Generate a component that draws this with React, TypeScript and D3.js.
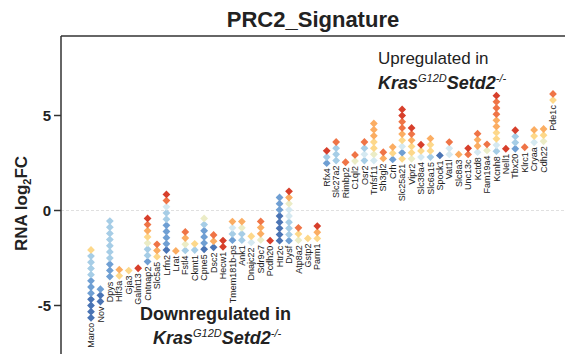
import React from "react";
import * as d3 from "d3";

const genes = [
  "Marco","Nov","Dpys","Hlf3a","Gja3","Galnt13","Cntnap2","Slc5a5","Lrfn2","Lrat",
  "Fstl4","Ckmt1","Cpne5","Dsc2","Hecw1","Tmem181b-ps","Ank1","Dnajc22","Sdr9c7","Pcdh20",
  "Htr2c","Dysf","Atp8a2","Gstp2","Parm1",
  "Rfx4","Slc27a2","Rimbp2","C1ql2","Osr2","Tnfsf11","Sh3gl2","Crh","Slc25a21","Vipr2",
  "Slc38a4","Slc6a15","Spock1","Vat1l","Slc8a3","Unc13c","Kctd8","Fam19a4","Kcnh8","Nell1",
  "Tbx20","Klrc1","Cryaa","Cdh22","Pde1c",
];

// log2FC of the lowest diamond of each gene
const bottomFC = [
  -5.65,-4.79,-3.48,-3.44,-3.16,-3.04,-2.69,-2.43,-2.08,-2.13,
  -2.1,-2.08,-2.04,-1.94,-1.91,-1.56,-1.56,-1.68,-1.55,-1.59,
  -1.59,-1.59,-1.56,-1.47,-1.47,
  2.49,2.63,2.54,2.6,2.63,2.63,2.74,2.69,2.72,2.72,
  2.81,2.81,2.9,2.95,2.95,2.95,3.07,3.16,3.12,3.25,
  3.25,3.33,3.59,3.64,5.81,
];

// colour code of each stacked diamond, bottom to top
const colorCodes = [
  "DDDDBBBLLLLY","DDB","BBBLLLLLLL","YO","Y","X","BLLCYORX","YOR","DBBBBLLPRX","O",
  "LCOR","LY","DBBBLC","DOR","XX","BLPO","LLCO","PY","COOR","X",
  "DDDDDBBB","BLLLPPCOX","CYR","Y","YOX",
  "BLX","LLLR","R","CR","LPLR","PCYYOOO","OR","BYO","YBPYORRXX","CYYORX",
  "PYX","LYYO","D","PPR","O","RX","POOR","CR","LPYYOORRRX","X",
  "BLLX","R","PYO","CYO","YR",
];

const STACK_STEP = 0.325;
const yTicks = [5, 0, -5];

const palette: Record<string, string> = {
  D: "#4a74b4",
  B: "#6f9fd3",
  L: "#a6cde6",
  P: "#d5e9f1",
  C: "#ebecc6",
  Y: "#fdd88a",
  O: "#fbad62",
  R: "#ef7446",
  X: "#d73f2b",
};

const W = 565;
const H = 354;
const FONT = "'Liberation Sans', Arial, Helvetica, sans-serif";

export default function App() {
  const x = d3.scalePoint<string>().domain(genes).range([91, 553]).padding(0);
  const y = d3.scaleLinear().domain([-5, 5]).range([305.5, 115.5]);
  const axisX = 61;
  const topY = 36;

  const points = genes.flatMap((g, i) =>
    colorCodes[i].split("").map((c, j) => ({
      gene: g,
      v: bottomFC[i] + j * STACK_STEP,
      color: palette[c],
    }))
  );

  const diamond = "M0,-3.9L3.9,0L0,3.9L-3.9,0Z";

  return (
    <svg
      width={W}
      height={H}
      style={{ position: "absolute", left: 0, top: 0, background: "#fff" }}
      fontFamily={FONT}
    >
      <rect x={0} y={0} width={W} height={H} fill="#fff" />
      {/* title */}
      <text x={313} y={27} textAnchor="middle" fontSize={22} fontWeight="bold" fill="#222">
        PRC2_Signature
      </text>

      {/* zero line */}
      <line x1={axisX} x2={W} y1={y(0)} y2={y(0)} stroke="#e0e0e0" strokeDasharray="3,2" strokeWidth={1} />

      {/* frame */}
      <line x1={axisX} x2={W} y1={topY} y2={topY} stroke="#333" strokeWidth={1.5} />
      <line x1={axisX} x2={axisX} y1={topY} y2={H} stroke="#333" strokeWidth={1.5} />

      {/* y ticks */}
      {yTicks.map((t) => (
        <g key={t}>
          <line x1={axisX - 7} x2={axisX} y1={y(t)} y2={y(t)} stroke="#333" strokeWidth={1.5} />
          <text x={axisX - 10} y={y(t)} dy="0.36em" textAnchor="end" fontSize={15} fontWeight="bold" fill="#222">
            {t < 0 ? "-" + Math.abs(t) : t}
          </text>
        </g>
      ))}

      {/* y label */}
      <text
        transform={`translate(27,${y(0) - 7}) rotate(-90)`}
        textAnchor="middle"
        fontSize={17}
        fontWeight="bold"
        fill="#222"
      >
        RNA log
        <tspan fontSize={11} dy={4}>2</tspan>
        <tspan dy={-4}>FC</tspan>
      </text>

      {/* diamonds */}
      {points.map((p, k) => (
        <path key={k} d={diamond} transform={`translate(${x(p.gene)},${y(p.v)})`} fill={p.color} />
      ))}

      {/* gene labels */}
      {genes.map((g, i) => (
        <text
          key={g}
          transform={`translate(${x(g)},${y(bottomFC[i]) + 5}) rotate(-90)`}
          textAnchor="end"
          dy="0.35em"
          fontSize={9}
          fill="#222"
        >
          {g}
        </text>
      ))}

      {/* annotations */}
      <text x={378} y={64} fontSize={17} fill="#222">Upregulated in</text>
      <text x={378} y={89} fontSize={18} fontWeight="bold" fontStyle="italic" fill="#222">
        Kras
        <tspan fontSize={11} fontWeight="normal" dy={-7}>G12D</tspan>
        <tspan dy={7}>Setd2</tspan>
        <tspan fontSize={11} fontWeight="normal" dy={-7}>-/-</tspan>
      </text>

      <text x={140} y={320} fontSize={18} fontWeight="bold" fill="#222">Downregulated in</text>
      <text x={153} y={344} fontSize={18} fontWeight="bold" fontStyle="italic" fill="#222">
        Kras
        <tspan fontSize={11} fontWeight="normal" dy={-7}>G12D</tspan>
        <tspan dy={7}>Setd2</tspan>
        <tspan fontSize={11} fontWeight="normal" dy={-7}>-/-</tspan>
      </text>
    </svg>
  );
}
